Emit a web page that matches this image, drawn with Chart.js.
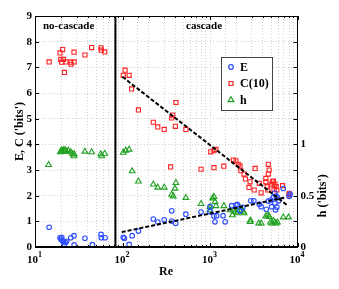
<!DOCTYPE html>
<html>
<head>
<meta charset="utf-8">
<title>E, C, h vs Re</title>
<script src="https://cdn.jsdelivr.net/npm/chart.js@4.4.0/dist/chart.umd.min.js"></script>
<style>
  html, body { margin: 0; padding: 0; background: #fff; }
</style>
</head>
<body>
<canvas id="chart" width="339" height="289"></canvas>
<script>
  // E (left axis, bits)
  const eRe  = [14.5, 19.3, 19.8, 20.2, 20.6, 21.1, 21.7, 22.2, 23.0, 25.6, 27.9, 28.0, 37.2, 45.3, 56.8, 57.2, 63.2,
                102, 105, 119, 129, 152, 225, 253, 300, 365, 365, 405, 530, 790,
                1000, 1000, 1110, 1140, 1190, 1410, 1490, 1770, 1980, 2050, 2200, 2370, 2930, 3170, 3660, 3840,
                4400, 4640, 4940, 5060, 5300, 5520, 5700, 5900, 6080, 5500, 6880, 8050, 8230, 5800, 5600];
  const eVal = [0.77, 0.36, 0.30, 0.38, 0.25, 0.20, 0.10, 0.18, 0.22, 0.36, 0.44, 0.08, 0.34, 0.09, 0.49, 0.36, 0.36,
                0.38, 0.34, 0.10, 0.44, 0.62, 1.09, 0.97, 1.06, 1.41, 1.01, 0.93, 1.28, 1.36,
                1.57, 1.37, 1.21, 0.98, 1.22, 1.22, 0.98, 1.61, 1.63, 1.66, 1.41, 1.54, 1.80, 1.80, 1.67, 1.57,
                1.47, 1.79, 1.83, 1.57, 1.93, 1.70, 1.98, 1.92, 1.80, 2.10, 2.28, 1.98, 2.06, 1.55, 1.45];

  // C(10) (left axis, bits)
  const cRe  = [14.5, 19.3, 19.7, 20.2, 20.7, 21.1, 21.7, 22.6, 25.6, 25.8, 27.9, 28.0, 37.2, 44.4, 56.8, 57.2, 62.6,
                102, 107, 119, 127, 152, 225, 253, 300, 355, 365, 375, 402, 408, 530, 790,
                1020, 1110, 1170, 1110, 1440, 1850, 1980, 2100, 2200, 2250, 2450, 2540, 2870, 3280, 2790, 3200,
                3660, 3840, 4350, 4640, 4740, 4640, 4350, 4500, 4580, 5000, 5200, 5300, 5400, 5520, 5700, 5800,
                6760, 8000, 8040];
  const cVal = [7.21, 7.56, 7.31, 7.20, 7.69, 7.31, 6.80, 7.21, 7.20, 7.12, 7.59, 7.21, 7.48, 7.77, 7.76, 7.67, 7.60,
                6.69, 6.89, 6.69, 6.16, 5.34, 4.86, 4.68, 4.58, 3.12, 5.03, 5.14, 4.70, 5.63, 4.58, 3.03,
                3.71, 3.75, 3.80, 3.09, 3.15, 3.39, 3.36, 3.22, 3.16, 2.97, 2.84, 2.65, 2.54, 3.06, 2.32, 2.22,
                2.48, 2.11, 2.54, 3.22, 3.00, 2.84, 2.67, 2.35, 2.22, 2.45, 2.54, 2.57, 2.24, 2.45, 2.35, 2.22,
                2.39, 2.02, 2.09];

  // h (right axis, bits)
  const hRe  = [14.3, 19.5, 20.0, 20.5, 21.0, 21.5, 22.0, 23.0, 24.0, 25.6, 26.9, 28.0, 27.9, 37.2, 44.4, 56.4, 57.9, 62.6,
                102, 109, 119, 129, 152, 225, 253, 300, 398, 408, 365, 380, 530, 790,
                1000, 1000, 1070, 1110, 1140, 1170, 1440, 1700, 1800, 1850, 1950, 2050, 2200, 2300, 2400, 2450,
                2870, 2900, 3600, 3850, 4350, 4600, 4770, 4900, 5100, 5300, 5500, 5700, 5900, 6880, 7900];
  const hVal = [0.80, 0.925, 0.94, 0.93, 0.945, 0.935, 0.945, 0.93, 0.94, 0.925, 0.905, 0.905, 0.885, 0.93, 0.925, 0.905, 0.885, 0.91,
                0.92, 0.94, 0.95, 0.74, 0.64, 0.61, 0.58, 0.58, 0.57, 0.625, 0.51, 0.495, 0.48, 0.42,
                0.39, 0.36, 0.475, 0.49, 0.44, 0.40, 0.40, 0.36, 0.31, 0.36, 0.345, 0.33, 0.385, 0.36, 0.345, 0.33,
                0.245, 0.26, 0.23, 0.23, 0.30, 0.31, 0.295, 0.24, 0.23, 0.255, 0.24, 0.23, 0.24, 0.29, 0.29];

  // fitted trends in the cascade regime
  const cFitRe = [100, 7600];
  const cFitVal = [6.63, 1.63];
  const eFitRe = [98, 7300];
  const eFitVal = [0.58, 1.93];

  // boundary between regimes
  const boundaryRe = 83;

  const xTickPowers = [1, 2, 3, 4];
  const hTickLabels = ['0', '0.5', '1'];

  const serif = '"Liberation Serif", "Times New Roman", serif';
  const blue = '#2b4cff', red = '#ff2020', green = '#1fa01f';

  function pts(xs, ys) {
    return xs.map((x, i) => ({ x: x, y: ys[i] }));
  }

  // frame, inward ticks and all the hand-placed text
  const decorations = {
    id: 'decorations',
    afterDraw(chart) {
      const { ctx, chartArea: a, scales } = chart;
      const xs = scales.x, ys = scales.y;
      ctx.save();
      ctx.strokeStyle = '#000';
      ctx.lineWidth = 1;
      ctx.beginPath();
      xs.ticks.forEach(t => {
        const px = Math.round(xs.getPixelForValue(t.value)) + 0.5;
        const lg = Math.log10(t.value);
        const len = Math.abs(lg - Math.round(lg)) < 1e-6 ? 4 : 2;
        ctx.moveTo(px, a.bottom); ctx.lineTo(px, a.bottom - len);
        ctx.moveTo(px, a.top); ctx.lineTo(px, a.top + len);
      });
      ys.ticks.forEach(t => {
        const py = Math.round(ys.getPixelForValue(t.value)) + 0.5;
        ctx.moveTo(a.left, py); ctx.lineTo(a.left + 4, py);
        ctx.moveTo(a.right, py); ctx.lineTo(a.right - 4, py);
      });
      ctx.stroke();
      ctx.strokeRect(Math.round(a.left) + 0.5, Math.round(a.top) + 0.5,
                     Math.round(a.right - a.left) - 1, Math.round(a.bottom - a.top) - 1);

      ctx.fillStyle = '#000';
      // x tick labels 10^n
      xTickPowers.forEach(p => {
        const px = xs.getPixelForValue(Math.pow(10, p));
        ctx.font = 'bold 11px ' + serif;
        ctx.textAlign = 'center';
        ctx.textBaseline = 'alphabetic';
        ctx.fillText('10', px - 2.5, 263);
        ctx.font = 'bold 8px ' + serif;
        ctx.textAlign = 'left';
        ctx.fillText(String(p), px + 3, 257);
      });

      // axis titles
      ctx.font = 'bold 12px ' + serif;
      ctx.textAlign = 'center';
      ctx.textBaseline = 'alphabetic';
      ctx.fillText('Re', 166, 275);

      ctx.save();
      ctx.translate(23, (a.top + a.bottom) / 2);
      ctx.rotate(-Math.PI / 2);
      ctx.fillText("E, C ('bits')", 0, 0);
      ctx.restore();

      const y2 = scales.y2;
      ctx.save();
      ctx.translate(326, (y2.getPixelForValue(0) + y2.getPixelForValue(1)) / 2);
      ctx.rotate(-Math.PI / 2);
      ctx.fillText("h ('bits')", 0, 0);
      ctx.restore();

      // regime labels
      ctx.font = 'bold 11px ' + serif;
      ctx.textAlign = 'left';
      ctx.fillText('no-cascade', 43, 29);
      ctx.fillText('cascade', 186, 29);

      // legend
      const lx = 221, ly = 57, lw = 51, lh = 53;
      ctx.fillStyle = '#fff';
      ctx.fillRect(lx, ly, lw, lh);
      ctx.strokeStyle = '#444';
      ctx.strokeRect(lx + 0.5, ly + 0.5, lw, lh);
      const rows = [
        { label: 'E', color: blue, shape: 'circle' },
        { label: 'C(10)', color: red, shape: 'rect' },
        { label: 'h', color: green, shape: 'triangle' }
      ];
      rows.forEach((r, i) => {
        const my = ly + 10 + i * 16.5, mx = 231;
        ctx.strokeStyle = r.color;
        ctx.lineWidth = 1.2;
        ctx.beginPath();
        if (r.shape === 'circle') {
          ctx.arc(mx, my, 2.3, 0, Math.PI * 2);
        } else if (r.shape === 'rect') {
          ctx.rect(mx - 2, my - 2, 4, 4);
        } else {
          ctx.moveTo(mx, my - 3.3);
          ctx.lineTo(mx + 2.9, my + 1.7);
          ctx.lineTo(mx - 2.9, my + 1.7);
          ctx.closePath();
        }
        ctx.stroke();
        ctx.fillStyle = '#000';
        ctx.font = 'bold 12px ' + serif;
        ctx.textBaseline = 'middle';
        ctx.fillText(r.label, 240, my + 0.5);
      });
      ctx.restore();
    }
  };

  const gridStyle = { color: '#c4c4c4', lineWidth: 0.8, drawTicks: false };

  new Chart(document.getElementById('chart'), {
    type: 'scatter',
    data: {
      datasets: [
        {
          label: 'C fit', data: pts(cFitRe, cFitVal), showLine: true, order: -1,
          borderColor: '#000', borderWidth: 2, borderDash: [4, 2], pointRadius: 0, yAxisID: 'y'
        },
        {
          label: 'E fit', data: pts(eFitRe, eFitVal), showLine: true, order: -1,
          borderColor: '#000', borderWidth: 2, borderDash: [4, 2], pointRadius: 0, yAxisID: 'y'
        },
        {
          label: 'boundary', data: pts([boundaryRe, boundaryRe], [0, 9]), showLine: true, order: -1,
          borderColor: '#000', borderWidth: 2, pointRadius: 0, yAxisID: 'y'
        },
        {
          label: 'E', data: pts(eRe, eVal), yAxisID: 'y',
          pointStyle: 'circle', pointRadius: 2.3, borderColor: blue, borderWidth: 1.1,
          backgroundColor: 'rgba(0,0,0,0)'
        },
        {
          label: 'C(10)', data: pts(cRe, cVal), yAxisID: 'y',
          pointStyle: 'rect', pointRadius: 2.9, borderColor: red, borderWidth: 1.1,
          backgroundColor: 'rgba(0,0,0,0)'
        },
        {
          label: 'h', data: pts(hRe, hVal), yAxisID: 'y2',
          pointStyle: 'triangle', pointRadius: 3.3, borderColor: green, borderWidth: 1.1,
          backgroundColor: 'rgba(0,0,0,0)'
        }
      ]
    },
    options: {
      responsive: false,
      animation: false,
      devicePixelRatio: 1,
      layout: { padding: { top: 16, left: 0, right: 0, bottom: 0 } },
      plugins: { legend: { display: false }, tooltip: { enabled: false } },
      scales: {
        x: {
          type: 'logarithmic', min: 10, max: 10000,
          ticks: { display: false },
          grid: gridStyle,
          border: { display: true, color: '#000', width: 1, dash: [1, 2] },
          afterFit: s => { s.height = 42; }
        },
        y: {
          min: 0, max: 9,
          ticks: { stepSize: 1, color: '#000', padding: 3, font: { family: serif, size: 11, weight: 'bold' } },
          grid: gridStyle,
          border: { display: true, color: '#000', width: 1, dash: [1, 2] },
          afterFit: s => { s.width = 35; }
        },
        y2: {
          position: 'right', min: 0, max: 2.25,
          ticks: {
            stepSize: 0.25, color: '#000', padding: 3,
            font: { family: serif, size: 11, weight: 'bold' },
            callback: v => {
              const lbl = String(Math.round(v * 100) / 100);
              return hTickLabels.includes(lbl) ? lbl : '';
            }
          },
          grid: { display: false, drawTicks: false },
          border: { display: true, color: '#000', width: 1 },
          afterFit: s => { s.width = 41.5; }
        }
      }
    },
    plugins: [decorations]
  });
</script>
</body>
</html>
